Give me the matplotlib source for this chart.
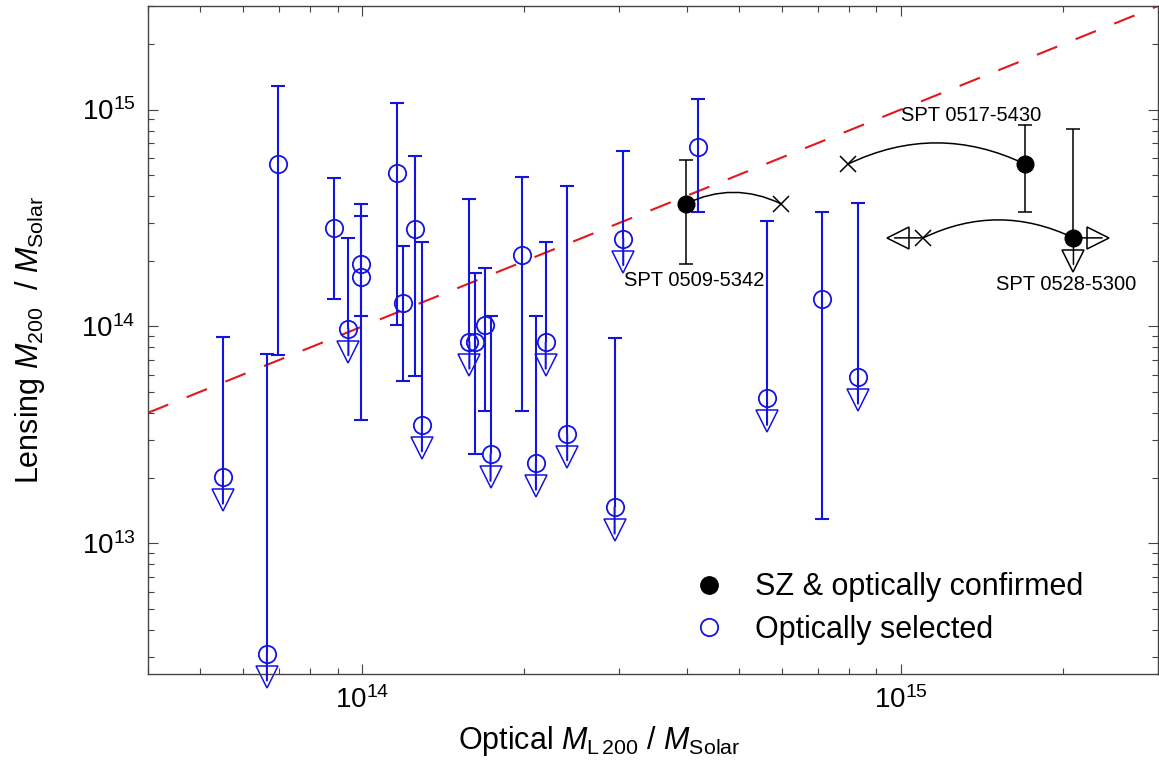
import numpy as np
import matplotlib
matplotlib.use('Agg')
import matplotlib.pyplot as plt
import matplotlib.transforms as mtransforms
from matplotlib.lines import Line2D
from matplotlib.ticker import NullFormatter, FuncFormatter

plt.rcParams['font.family'] = ['Liberation Sans', 'DejaVu Sans']
plt.rcParams['mathtext.fontset'] = 'custom'
plt.rcParams['mathtext.rm'] = 'Liberation Sans'
plt.rcParams['mathtext.it'] = 'Liberation Sans:italic'
plt.rcParams['mathtext.bf'] = 'Liberation Sans:bold'

nan = np.nan

# optically selected clusters (lensing upper limits where opt_lo is nan)
opt_x = [5.51e13, 6.65e13, 6.98e13, 8.84e13, 9.42e13, 9.95e13, 9.95e13, 1.16e14,
         1.19e14, 1.25e14, 1.29e14, 1.58e14, 1.62e14, 1.69e14, 1.73e14, 1.98e14,
         2.10e14, 2.19e14, 2.40e14, 2.94e14, 3.05e14, 4.20e14, 5.64e14, 7.14e14, 8.32e14]
opt_y = [2.02e13, 3.09e12, 5.60e14, 2.84e14, 9.76e13, 1.95e14, 1.69e14, 5.10e14,
         1.28e14, 2.80e14, 3.52e13, 8.46e13, 8.46e13, 1.02e14, 2.57e13, 2.13e14,
         2.34e13, 8.46e13, 3.20e13, 1.47e13, 2.54e14, 6.72e14, 4.66e13, 1.34e14, 5.84e13]
opt_hi = [8.9e13, 7.43e13, 1.28e15, 4.85e14, 2.56e14, 3.68e14, 3.22e14, 1.07e15,
          2.34e14, 6.11e14, 2.44e14, 3.85e14, 1.77e14, 1.85e14, 1.12e14, 4.89e14,
          1.12e14, 2.45e14, 4.44e14, 8.87e13, 6.42e14, 1.12e15, 3.07e14, 3.37e14, 3.71e14]
opt_lo = [nan, nan, 7.4e13, 1.34e14, nan, 1.12e14, 3.71e13, 1.02e14,
          5.6e13, 5.88e13, nan, nan, 2.57e13, 4.06e13, nan, 4.06e13,
          nan, nan, nan, nan, nan, 3.37e14, nan, 1.29e13, nan]

# SZ & optically confirmed clusters
sz_names = ['SPT 0509-5342', 'SPT 0517-5430', 'SPT 0528-5300']
sz_x = [3.99e14, 1.70e15, 2.09e15]
sz_y = [3.68e14, 5.60e14, 2.56e14]
sz_hi = [5.84e14, 8.46e14, 8.11e14]
sz_lo = [1.95e14, 3.37e14, nan]
sz_x_new = [5.98e14, 7.97e14, 1.10e15]   # where the cross sits

BLUE = '#1414e0'
RED = '#e3171c'

fig = plt.figure(figsize=(11.59, 7.71), dpi=100)
ax = fig.add_axes([148/1159, 1 - 674/771, 1010/1159, 668/771])
ax.set_xscale('log')
ax.set_yscale('log')
ax.set_xlim(4e13, 3e15)
ax.set_ylim(2.5e12, 3e15)

# one-to-one line
lims = np.array(ax.get_xlim())
ax.plot(lims, lims, color=RED, lw=1.5, dashes=(10.5, 9.5), zorder=1)


def arrow(x, y, color, dx, dy, marker, lw):
    ax.annotate('', xy=(x, y), xytext=(dx * 1.15, dy * 1.15), textcoords='offset pixels',
                arrowprops=dict(arrowstyle='-', color=color, lw=lw, shrinkA=0, shrinkB=0),
                annotation_clip=False)
    tr = mtransforms.offset_copy(ax.transData, fig=fig, x=dx, y=dy, units='dots')
    ax.plot([x], [y], marker=marker, ms=15.5, mfc='none', mec=color, mew=1.1,
            transform=tr, clip_on=False, ls='none')


for x, y, hi, lo in zip(opt_x, opt_y, opt_hi, opt_lo):
    bottom = y if np.isnan(lo) else lo
    ax.vlines(x, bottom, hi, color=BLUE, lw=1.5)
    ax.plot([x], [hi], marker='_', ms=10, mew=1.5, color=BLUE)
    if np.isnan(lo):
        arrow(x, y, BLUE, 0, -23, 'v', 1.5)
    else:
        ax.plot([x], [lo], marker='_', ms=10, mew=1.5, color=BLUE)
ax.plot(opt_x, opt_y, 'o', ms=12.5, mfc='none', mec=BLUE, mew=1.3, ls='none',
        clip_on=False)

for x, y, hi, lo in zip(sz_x, sz_y, sz_hi, sz_lo):
    bottom = y if np.isnan(lo) else lo
    ax.vlines(x, bottom, hi, color='k', lw=1.1)
    ax.plot([x], [hi], marker='_', ms=10, mew=1.1, color='k')
    if np.isnan(lo):
        arrow(x, y, 'k', 0, -23, 'v', 1.1)
        arrow(x, y, 'k', 25, 0, '>', 1.1)
    else:
        ax.plot([x], [lo], marker='_', ms=10, mew=1.1, color='k')

for i, (x0, x1, y) in enumerate(zip(sz_x, sz_x_new, sz_y)):
    ax.annotate('', xy=(x1, y), xytext=(x0, y),
                arrowprops=dict(arrowstyle='-', color='k', lw=1.1, shrinkA=0, shrinkB=0,
                                connectionstyle='arc3,rad=%.3f' % (-0.24 if x1 > x0 else 0.24)))
    ax.plot([x1], [y], 'x', ms=11, mew=1.1, color='k')
arrow(sz_x_new[2], sz_y[2], 'k', -25, 0, '<', 1.1)
ax.plot(sz_x, sz_y, 'o', ms=12, color='k', ls='none', zorder=5)

label_off = [(8, -77), (-54, 49), (-7, -47)]
for name, x, y, off in zip(sz_names, sz_x, sz_y, label_off):
    ax.annotate(name, xy=(x, y), xytext=off, textcoords='offset pixels',
                ha='center', va='center', fontsize=14.5)

# axes styling
for s in ax.spines.values():
    s.set_color('#444444')
    s.set_linewidth(1.0)
ax.tick_params(which='both', direction='in', top=True, right=True, color='#444444',
               width=0.8)
ax.tick_params(which='major', length=7.5, labelsize=20, pad=9)
ax.tick_params(which='minor', length=4)


def fmt(v, pos):
    e = int(round(np.log10(v)))
    return r'$\mathdefault{10^{%d}}$' % e


ax.xaxis.set_major_formatter(FuncFormatter(fmt))
ax.yaxis.set_major_formatter(FuncFormatter(fmt))
ax.xaxis.set_minor_formatter(NullFormatter())
ax.yaxis.set_minor_formatter(NullFormatter())

ax.set_xlabel(r'Optical $M_{\mathrm{L}\,200}$ / $M_{\mathrm{Solar}}$', fontsize=22)
ax.set_ylabel(r'Lensing $M_{200}$  / $M_{\mathrm{Solar}}$', fontsize=22)
ax.xaxis.set_label_coords(0.4465, -0.075)
ax.yaxis.set_label_coords(-0.10, 0.5)

handles = [Line2D([], [], marker='o', ls='none', color='k', ms=12.5),
           Line2D([], [], marker='o', ls='none', mfc='none', mec=BLUE, mew=1.3, ms=12.5)]
ax.legend(handles, ['SZ & optically confirmed', 'Optically selected'],
          loc='upper left', bbox_to_anchor=(0.540, 0.152), frameon=False, fontsize=22,
          handlelength=1.0, handletextpad=1.0, labelspacing=0.4, borderpad=0,
          borderaxespad=0)

fig.savefig('out.png', dpi=100)
